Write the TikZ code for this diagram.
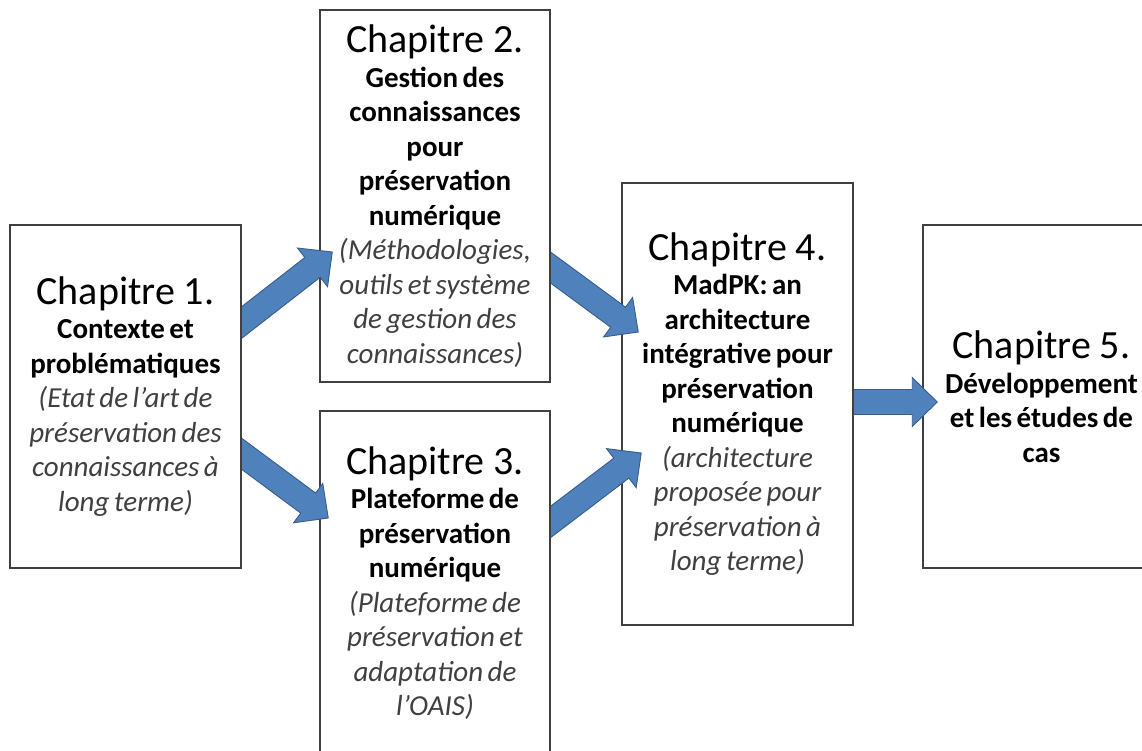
\documentclass[tikz,border=0pt]{standalone}
\usepackage{fontspec}
\setmainfont{Carlito}
\usetikzlibrary{calc}

\definecolor{arrowblue}{HTML}{4F81BD}
\definecolor{arrowedge}{HTML}{385D8A}
\definecolor{boxedge}{HTML}{404040}
\definecolor{notegray}{HTML}{404040}

\pgfdeclarelayer{l1}
\pgfdeclarelayer{l2}
\pgfdeclarelayer{l3}
\pgfdeclarelayer{l4}
\pgfdeclarelayer{l5}
\pgfdeclarelayer{l6}
\pgfsetlayers{l1,l2,l3,l4,l5,l6,main}

% tighter word space for box text
\newcommand\tightspaces{\spaceskip=4.5pt\relax}

\tikzset{
  chapbox/.style={draw=boxedge, line width=1.5pt, fill=white, inner sep=0pt,
    text width=222pt, execute at begin node={\centering\tightspaces},
    font=\fontsize{29}{34.5}\selectfont},
  blockarrow/.style={fill=arrowblue, draw=arrowedge, line width=0.9pt, line join=miter}
}

% chapter heading line (natural word space)
\newcommand\chaptitle[1]{{\fontsize{40}{34.5}\selectfont\spaceskip=0pt\relax Chapitre #1.}}

% thick block arrow from a tail coordinate to a tip coordinate
\newcommand\drawblockarrow[2]{%
  \coordinate (#1-b) at ($(#2)!25pt!(#1)$);
  \draw[blockarrow]
    ($(#1)!12.5pt!90:(#2)$) -- ($(#1-b)!12.5pt!90:(#2)$) --
    ($(#1-b)!24.5pt!90:(#2)$) -- (#2) --
    ($(#1-b)!24.5pt!-90:(#2)$) -- ($(#1-b)!12.5pt!-90:(#2)$) --
    ($(#1)!12.5pt!-90:(#2)$) -- cycle;
}

\begin{document}
\begin{tikzpicture}[x=1pt, y=-1pt]
\useasboundingbox (0,0) rectangle (1142,751);

% chapter boxes
\node[chapbox, minimum width=231pt, minimum height=343pt] (box1) at (125.5,396.5)
  {\chaptitle{1}\\
   {\bfseries Contexte et}\\ {\bfseries problématiques}\\
   {\itshape\color{notegray}(Etat de l’art de}\\
   {\itshape\color{notegray}préservation des}\\
   {\itshape\color{notegray}connaissances à}\\
   {\itshape\color{notegray}long terme)}};

\begin{pgfonlayer}{l5}
\node[chapbox, minimum width=230pt, minimum height=372pt] (box2) at (435,196)
  {\chaptitle{2}\\
   {\bfseries Gestion des}\\ {\bfseries connaissances}\\ {\bfseries pour}\\
   {\bfseries préservation}\\ {\bfseries numérique}\\
   {\itshape\color{notegray}(Méthodologies,}\\
   {\itshape\color{notegray}outils et système}\\
   {\itshape\color{notegray}de gestion des}\\
   {\itshape\color{notegray}connaissances)}};

\node[chapbox, minimum width=230pt, minimum height=344pt] (box3) at (435,583)
  {\chaptitle{3}\\
   {\bfseries Plateforme de}\\ {\bfseries préservation}\\ {\bfseries numérique}\\
   {\itshape\color{notegray}(Plateforme de}\\
   {\itshape\color{notegray}préservation et}\\
   {\itshape\color{notegray}adaptation de}\\
   {\itshape\color{notegray}l’OAIS)}};
\end{pgfonlayer}

\begin{pgfonlayer}{l3}
\node[chapbox, minimum width=231pt, minimum height=442pt] (box4) at (737.5,404)
  {\chaptitle{4}\\
   {\bfseries MadPK: an}\\ {\bfseries architecture}\\ {\bfseries intégrative pour}\\
   {\bfseries préservation}\\ {\bfseries numérique}\\
   {\itshape\color{notegray}(architecture}\\
   {\itshape\color{notegray}proposée pour}\\
   {\itshape\color{notegray}préservation à}\\
   {\itshape\color{notegray}long terme)}};
\end{pgfonlayer}

\begin{pgfonlayer}{l1}
\node[chapbox, minimum width=237pt, minimum height=343pt] (box5) at (1041.5,396.5)
  {\chaptitle{5}\\
   {\bfseries Développement}\\ {\bfseries et les études de}\\ {\bfseries cas}};
\end{pgfonlayer}

% arrow ends
\coordinate (t12) at ($(box1.east)+(-20,-58.5)$);
\coordinate (h12) at ($(box2.west)+(13,56)$);
\coordinate (t13) at ($(box1.east)+(-20,42.5)$);
\coordinate (h13) at ($(box3.west)+(9,-65)$);
\coordinate (t24) at ($(box2.east)+(-20,57)$);
\coordinate (h24) at ($(box4.west)+(17,-72)$);
\coordinate (t34) at ($(box3.east)+(-20,-46)$);
\coordinate (h34) at ($(box4.west)+(20,49)$);
\coordinate (t45) at ($(box4.east)+(-20,-2)$);
\coordinate (h45) at ($(box5.west)+(15,5.5)$);

\begin{pgfonlayer}{l6}
\drawblockarrow{t12}{h12}
\drawblockarrow{t13}{h13}
\end{pgfonlayer}

\begin{pgfonlayer}{l4}
\drawblockarrow{t24}{h24}
\drawblockarrow{t34}{h34}
\end{pgfonlayer}

\begin{pgfonlayer}{l2}
\drawblockarrow{t45}{h45}
\end{pgfonlayer}
\end{tikzpicture}
\end{document}
